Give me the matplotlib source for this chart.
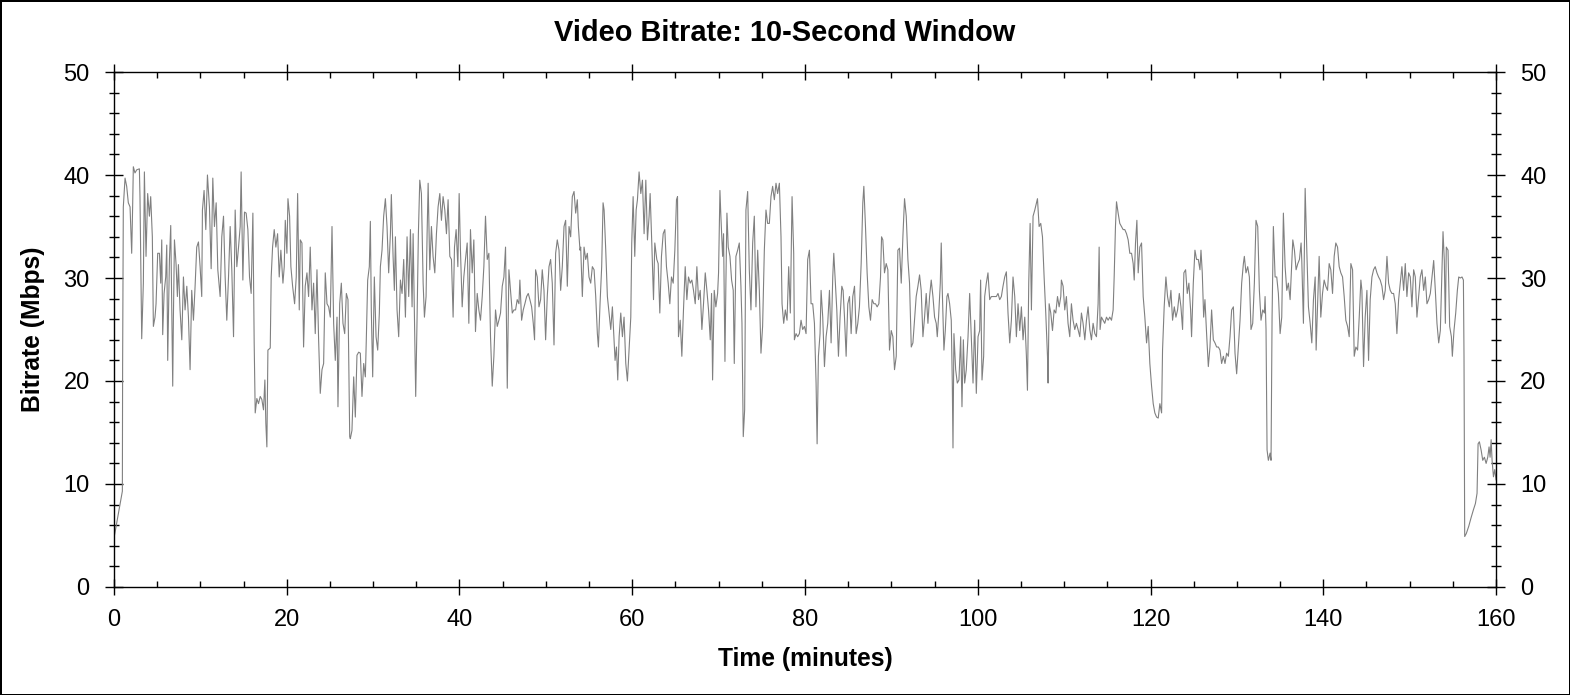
import matplotlib
matplotlib.use("Agg")
import matplotlib.pyplot as plt
from matplotlib.ticker import MultipleLocator
import numpy as np

# (minute, Mbps) readings, split in stretches of roughly half an hour
part_a = [
    (0.0, 4.8), (0.1, 5.2), (0.97, 9.3), (1.0, 21.5), (1.08, 36.9), (1.28, 39.7),
    (1.47, 38.9), (1.66, 37.3), (1.86, 36.9), (2.05, 32.4), (2.16, 36.9), (2.24, 40.8),
    (2.43, 40.2), (2.63, 40.5), (2.94, 40.6), (3.01, 37.9), (3.21, 24.1), (3.40, 29.5),
    (3.52, 40.3), (3.71, 32.1), (3.90, 38.2), (4.10, 36.0), (4.25, 37.9), (4.44, 34.0),
    (4.56, 25.3), (4.75, 26.2), (4.87, 27.5), (5.06, 32.4), (5.26, 32.4), (5.41, 29.5),
    (5.53, 33.7), (5.64, 24.5), (5.80, 28.5), (5.99, 30.1), (6.11, 33.2), (6.22, 22.0),
    (6.42, 31.8), (6.57, 35.1), (6.80, 19.5), (6.88, 26.2), (7.00, 33.7), (7.19, 31.3),
    (7.34, 28.2), (7.46, 31.3), (7.65, 26.9), (7.85, 24.0), (8.04, 30.1), (8.23, 26.9),
    (8.43, 29.2), (8.62, 26.2), (8.81, 21.1), (9.00, 28.8), (9.20, 25.9), (9.39, 29.2),
    (9.58, 33.0), (9.78, 33.5), (9.97, 31.1), (10.16, 28.2), (10.24, 36.6), (10.43, 38.5),
    (10.63, 34.7), (10.82, 40.0), (11.05, 36.9), (11.25, 30.9), (11.44, 39.7), (11.63, 35.0),
    (11.83, 37.3), (12.02, 30.8), (12.29, 28.2), (12.48, 34.0), (12.68, 36.0), (12.87, 30.1),
    (13.06, 25.9), (13.26, 30.1), (13.45, 35.0), (13.64, 30.8), (13.84, 24.3), (14.03, 36.6),
    (14.22, 31.1), (14.42, 33.0), (14.61, 35.0), (14.72, 40.3), (14.92, 29.8), (15.11, 36.4),
    (15.30, 36.3), (15.50, 34.7), (15.69, 30.1), (15.88, 28.5), (16.08, 36.3), (16.23, 23.7),
    (16.35, 16.9), (16.54, 18.3), (16.73, 17.8), (16.93, 18.5), (17.12, 18.2), (17.31, 17.2),
    (17.47, 20.1), (17.58, 15.9), (17.70, 13.6), (17.82, 23.0), (18.09, 23.2), (18.20, 30.1),
    (18.36, 33.0), (18.55, 34.7), (18.74, 33.0), (18.94, 34.3), (19.13, 30.1), (19.32, 32.7),
    (19.56, 29.5), (19.71, 31.1), (19.83, 35.6), (20.02, 32.4), (20.14, 37.7), (20.33, 36.0),
    (20.48, 31.1), (20.68, 29.2), (20.91, 27.5), (21.10, 30.1), (21.26, 38.2), (21.45, 26.9),
    (21.57, 33.7), (21.76, 33.4), (21.95, 23.3), (22.14, 29.2), (22.34, 30.5), (22.53, 28.2),
    (22.72, 33.0), (22.92, 26.9), (23.11, 29.5), (23.30, 24.6), (23.50, 30.8), (23.69, 24.0),
    (23.88, 18.8), (24.08, 21.1), (24.27, 21.7), (24.46, 30.5), (24.66, 27.5), (24.85, 27.2),
    (25.04, 26.2), (25.24, 35.0), (25.43, 25.6), (25.62, 22.0), (25.82, 26.2), (25.93, 17.5),
    (26.13, 27.5), (26.32, 29.5), (26.51, 25.6), (26.71, 24.6), (26.90, 28.5), (27.09, 27.9),
    (27.29, 14.6),
]

part_b = [
    (27.36, 14.4), (27.55, 15.2), (27.75, 20.4), (27.94, 16.5), (28.13, 22.5), (28.33, 22.8),
    (28.52, 22.7), (28.71, 18.5), (28.91, 21.7), (29.10, 20.4), (29.21, 24.0), (29.37, 29.8),
    (29.56, 31.1), (29.68, 35.5), (29.79, 26.9), (29.95, 20.4), (30.14, 30.1), (30.34, 24.3),
    (30.53, 23.0), (30.72, 26.6), (30.84, 31.1), (31.03, 32.7), (31.22, 36.0), (31.42, 37.7),
    (31.61, 35.0), (31.80, 30.5), (32.00, 34.3), (32.11, 38.1), (32.31, 32.1), (32.46, 28.8),
    (32.58, 34.0), (32.77, 26.9), (32.96, 24.3), (33.16, 29.8), (33.35, 28.5), (33.54, 31.8),
    (33.74, 26.2), (33.93, 34.0), (34.12, 28.2), (34.32, 34.7), (34.51, 27.2), (34.63, 34.3),
    (34.78, 26.2), (34.93, 18.5), (35.09, 26.2), (35.24, 34.3), (35.40, 39.5), (35.59, 38.2),
    (35.79, 29.5), (35.94, 26.2), (36.13, 28.2), (36.25, 34.3), (36.37, 39.2), (36.56, 30.8),
    (36.75, 35.0), (36.94, 32.1), (37.14, 30.5), (37.33, 34.3), (37.52, 36.9), (37.72, 38.2),
    (37.91, 35.6), (38.10, 37.9), (38.30, 36.6), (38.49, 34.3), (38.68, 37.6), (38.88, 32.1),
    (39.07, 31.8), (39.26, 26.2), (39.42, 33.0), (39.61, 34.7), (39.81, 31.1), (39.96, 38.2),
    (40.11, 32.7), (40.31, 27.2), (40.50, 30.1), (40.69, 31.8), (40.89, 33.4), (41.08, 25.6),
    (41.27, 34.7), (41.47, 30.5), (41.66, 33.7), (41.85, 24.8), (42.05, 28.5), (42.24, 26.9),
    (42.43, 25.9), (42.63, 28.2), (42.82, 31.1), (43.01, 36.0), (43.21, 31.8), (43.40, 32.4),
    (43.59, 24.3), (43.79, 19.5), (43.98, 22.4), (44.17, 26.9), (44.37, 25.3), (44.56, 25.9),
    (44.75, 26.6), (44.95, 29.2), (45.14, 30.1), (45.33, 33.0), (45.53, 19.3), (45.72, 30.8),
    (45.91, 28.8), (46.11, 26.6), (46.30, 26.9), (46.49, 26.9), (46.68, 27.9), (46.88, 27.5),
    (46.99, 29.8), (47.19, 25.9), (47.38, 26.9), (47.57, 27.5), (47.77, 28.2), (47.96, 28.5),
    (48.15, 27.9), (48.35, 27.2), (48.54, 25.6), (48.69, 24.0), (48.81, 30.8), (49.00, 30.1),
    (49.20, 27.2), (49.39, 27.9), (49.58, 30.8), (49.78, 28.8), (49.97, 24.0), (50.16, 28.2),
    (50.36, 31.1), (50.55, 31.8), (50.74, 29.5), (50.94, 23.5), (51.13, 32.4), (51.32, 33.7),
    (51.52, 32.7), (51.71, 28.8), (51.90, 31.1), (52.10, 35.0), (52.29, 35.6), (52.48, 29.2),
    (52.68, 35.0), (52.87, 34.0), (53.06, 37.9), (53.26, 38.4), (53.45, 36.3), (53.64, 37.6),
    (53.76, 35.0), (53.95, 32.7),
]

part_c = [
    (54.03, 33.0), (54.22, 28.2), (54.42, 33.0), (54.61, 31.8), (54.80, 32.4), (54.99, 30.1),
    (55.19, 29.5), (55.38, 31.1), (55.58, 30.8), (55.77, 28.2), (55.96, 24.6), (56.08, 23.3),
    (56.27, 27.5), (56.46, 31.1), (56.62, 37.3), (56.74, 36.6), (56.93, 32.7), (57.12, 28.2),
    (57.32, 26.6), (57.51, 25.0), (57.70, 27.2), (57.90, 23.7), (58.01, 22.0), (58.17, 23.3),
    (58.32, 20.1), (58.48, 24.3), (58.67, 26.6), (58.86, 24.3), (59.05, 26.2), (59.25, 21.7),
    (59.44, 20.0), (59.63, 23.0), (59.83, 26.2), (59.94, 33.4), (60.10, 37.9), (60.29, 32.1),
    (60.45, 36.6), (60.60, 37.6), (60.79, 40.3), (60.99, 38.2), (61.18, 39.5), (61.37, 34.3),
    (61.57, 39.5), (61.76, 33.7), (61.95, 36.0), (62.07, 38.2), (62.26, 33.4), (62.46, 27.9),
    (62.61, 33.4), (62.84, 31.8), (63.00, 31.4), (63.19, 26.6), (63.38, 32.1), (63.58, 34.3),
    (63.77, 34.7), (63.96, 31.1), (64.16, 29.5), (64.35, 27.5), (64.54, 30.1), (64.74, 29.5),
    (64.93, 32.7), (65.12, 37.6), (65.24, 37.9), (65.35, 24.3), (65.55, 25.9), (65.74, 22.4),
    (65.93, 26.9), (66.13, 31.1), (66.32, 27.9), (66.51, 30.1), (66.71, 29.5), (66.90, 29.8),
    (67.09, 28.8), (67.29, 27.5), (67.48, 31.1), (67.67, 27.9), (67.87, 28.8), (68.06, 25.0),
    (68.25, 27.5), (68.45, 30.5), (68.64, 28.8), (68.83, 26.9), (69.03, 24.0), (69.18, 28.5),
    (69.30, 20.1), (69.49, 28.8), (69.68, 27.2), (69.88, 28.5), (69.99, 30.5), (70.15, 38.5),
    (70.26, 36.0), (70.46, 32.1), (70.57, 34.3), (70.73, 21.9), (70.84, 29.5), (70.96, 36.3),
    (71.11, 33.0), (71.31, 32.1), (71.50, 29.8), (71.69, 28.8), (71.81, 21.7), (72.00, 32.1),
    (72.20, 32.7), (72.39, 33.4), (72.58, 29.2), (72.70, 25.6), (72.85, 14.6), (73.01, 17.2),
    (73.16, 36.6), (73.36, 38.4), (73.55, 30.8), (73.74, 26.9), (73.94, 33.4), (74.13, 36.0),
    (74.32, 27.2), (74.52, 32.7), (74.71, 28.8), (74.90, 22.7), (75.09, 25.3), (75.29, 32.7),
    (75.48, 36.6), (75.67, 35.3), (75.87, 35.3), (76.06, 37.9), (76.25, 38.9), (76.45, 37.6),
    (76.64, 39.2), (76.83, 38.2), (77.03, 39.2), (77.22, 34.0), (77.34, 27.5), (77.53, 25.6),
    (77.72, 26.9), (77.92, 25.9), (78.11, 31.1), (78.30, 26.6), (78.50, 37.9), (78.69, 32.4),
    (78.77, 24.0), (78.96, 24.6), (79.15, 24.3), (79.35, 24.6), (79.54, 25.9), (79.73, 25.0),
    (79.93, 25.3), (80.12, 24.6), (80.31, 31.8), (80.51, 32.7), (80.70, 27.5), (80.89, 27.5),
    (81.09, 25.6), (81.28, 19.8), (81.40, 13.9), (81.55, 22.4), (81.74, 24.6),
]

part_d = [
    (81.86, 28.8), (82.05, 26.2), (82.25, 21.4), (82.44, 24.3), (82.63, 25.6), (82.83, 28.8),
    (83.02, 23.7), (83.21, 30.1), (83.33, 32.4), (83.48, 30.1), (83.68, 26.9), (83.87, 22.4),
    (84.06, 26.2), (84.26, 29.2), (84.41, 28.8), (84.57, 26.2), (84.76, 22.4), (84.95, 27.5),
    (85.15, 28.2), (85.34, 24.6), (85.53, 28.2), (85.73, 29.2), (85.92, 24.6), (86.11, 25.6),
    (86.30, 27.2), (86.50, 31.4), (86.69, 37.3), (86.81, 38.9), (87.00, 35.0), (87.19, 30.5),
    (87.39, 27.2), (87.58, 25.9), (87.77, 27.9), (87.97, 27.5), (88.16, 27.5), (88.35, 27.2),
    (88.55, 27.5), (88.74, 30.1), (88.86, 34.0), (89.01, 33.7), (89.20, 30.5), (89.40, 31.4),
    (89.59, 30.8), (89.78, 23.0), (89.98, 24.9), (90.17, 24.3), (90.36, 21.1), (90.56, 22.4),
    (90.75, 32.7), (90.94, 32.9), (91.14, 29.5), (91.33, 34.0), (91.52, 37.7), (91.72, 36.0),
    (91.91, 31.8), (92.10, 29.5), (92.30, 23.3), (92.49, 23.7), (92.68, 25.9), (92.87, 28.2),
    (93.07, 29.2), (93.26, 30.3), (93.45, 28.8), (93.65, 24.3), (93.84, 26.2), (94.03, 28.5),
    (94.23, 25.6), (94.42, 28.2), (94.61, 29.8), (94.81, 28.2), (95.00, 26.2), (95.19, 25.6),
    (95.31, 24.3), (95.46, 26.2), (95.66, 29.5), (95.77, 33.4), (95.89, 28.8), (96.08, 23.0),
    (96.24, 24.9), (96.43, 28.2), (96.55, 28.5), (96.74, 27.5), (96.93, 25.9), (97.05, 19.8),
    (97.13, 13.5), (97.24, 24.6), (97.44, 21.1), (97.63, 19.8), (97.82, 20.1), (98.02, 24.3),
    (98.17, 17.5), (98.33, 24.0), (98.48, 19.8), (98.67, 21.1), (98.87, 24.3), (99.06, 28.5),
    (99.25, 24.3), (99.45, 19.8), (99.64, 25.9), (99.83, 18.8), (100.03, 24.3), (100.22, 24.9),
    (100.33, 29.8), (100.49, 20.1), (100.68, 22.4), (100.80, 28.2), (100.99, 29.5), (101.18, 30.5),
    (101.38, 27.9), (101.57, 28.2), (101.76, 28.2), (101.96, 28.2), (102.15, 28.2), (102.34, 28.5),
    (102.54, 27.9), (102.73, 28.2), (102.92, 29.2), (103.12, 30.1), (103.31, 30.6), (103.50, 26.6),
    (103.70, 23.7), (103.89, 25.9), (104.08, 30.1), (104.28, 28.2), (104.47, 24.3), (104.66, 27.5),
    (104.86, 24.9), (105.05, 27.2), (105.24, 24.0), (105.44, 26.2), (105.63, 22.4), (105.75, 19.1),
    (105.90, 29.5), (106.06, 35.3), (106.21, 26.9), (106.40, 36.0), (106.60, 36.6), (106.79, 37.3),
    (106.91, 37.7), (107.10, 35.0), (107.29, 35.3), (107.49, 34.0), (107.68, 30.1), (107.87, 26.6),
    (108.07, 22.4), (108.14, 19.8), (108.26, 27.5), (108.45, 26.6), (108.65, 24.9), (108.84, 26.9),
    (109.03, 26.6), (109.23, 28.2), (109.42, 27.2), (109.61, 28.2),
]

part_e = [
    (109.68, 29.8), (109.88, 29.2), (110.07, 26.9), (110.26, 28.2), (110.45, 25.6), (110.65, 24.3),
    (110.84, 27.5), (111.03, 25.9), (111.23, 25.0), (111.42, 25.6), (111.61, 25.0), (111.81, 24.3),
    (112.00, 26.6), (112.19, 25.6), (112.39, 24.0), (112.58, 25.9), (112.77, 27.2), (112.97, 25.0),
    (113.16, 24.0), (113.35, 25.6), (113.55, 24.6), (113.74, 24.3), (113.93, 27.5), (114.05, 33.0),
    (114.16, 25.0), (114.32, 26.2), (114.51, 25.9), (114.70, 25.6), (114.90, 26.2), (115.09, 25.9),
    (115.28, 26.2), (115.48, 25.9), (115.67, 26.9), (115.79, 30.1), (115.94, 35.0), (116.06, 37.4),
    (116.25, 36.3), (116.44, 35.3), (116.64, 35.0), (116.83, 34.7), (117.02, 34.7), (117.22, 34.3),
    (117.41, 33.7), (117.60, 32.4), (117.80, 32.4), (117.99, 31.4), (118.11, 29.8), (118.26, 33.4),
    (118.42, 35.6), (118.57, 30.5), (118.76, 33.0), (118.96, 33.4), (119.15, 28.2), (119.34, 26.2),
    (119.54, 23.7), (119.73, 25.3), (119.92, 21.7), (120.12, 19.5), (120.31, 17.8), (120.50, 16.9),
    (120.70, 16.5), (120.89, 16.4), (121.08, 17.8), (121.28, 16.9), (121.39, 23.0), (121.58, 27.2),
    (121.78, 30.1), (121.97, 28.2), (122.17, 27.2), (122.36, 28.8), (122.55, 25.9), (122.75, 27.2),
    (122.94, 26.2), (123.13, 26.9), (123.33, 28.5), (123.52, 27.2), (123.71, 25.0), (123.86, 30.5),
    (124.06, 30.8), (124.25, 28.5), (124.44, 29.5), (124.64, 26.9), (124.75, 24.3), (124.95, 29.5),
    (125.14, 32.7), (125.33, 31.8), (125.53, 31.8), (125.72, 30.8), (125.84, 32.7), (125.99, 30.5),
    (126.15, 26.2), (126.30, 27.9), (126.49, 24.6), (126.69, 21.4), (126.88, 23.3), (127.07, 26.9),
    (127.27, 24.0), (127.46, 23.7), (127.65, 23.3), (127.85, 23.3), (128.04, 23.0), (128.23, 21.7),
    (128.43, 22.4), (128.62, 21.7), (128.81, 22.7), (129.01, 22.4), (129.20, 24.3), (129.39, 26.9),
    (129.59, 27.2), (129.78, 22.7), (129.97, 20.7), (130.17, 23.3), (130.36, 25.9), (130.55, 29.5),
    (130.75, 31.4), (130.86, 32.1), (131.05, 30.5), (131.25, 31.1), (131.44, 30.1), (131.63, 25.0),
    (131.83, 25.6), (132.02, 29.5), (132.21, 35.6), (132.41, 35.0), (132.60, 28.8), (132.79, 25.9),
    (132.99, 26.9), (133.18, 26.6), (133.26, 28.2), (133.37, 25.0), (133.49, 13.3), (133.64, 12.3),
    (133.84, 13.0), (133.95, 12.3), (134.07, 26.2), (134.22, 35.0), (134.42, 30.1), (134.61, 30.1),
    (134.80, 28.5), (135.00, 24.6), (135.19, 26.2), (135.38, 36.3), (135.58, 31.1), (135.77, 28.8),
    (135.96, 29.5), (136.16, 27.9), (136.35, 31.4), (136.47, 33.7), (136.66, 32.7), (136.85, 30.8),
    (137.05, 31.4), (137.24, 31.8), (137.43, 33.4),
]

part_f = [
    (137.51, 31.7), (137.70, 25.6), (137.90, 38.7), (138.09, 32.7), (138.28, 27.2), (138.48, 25.6),
    (138.67, 23.7), (138.86, 27.9), (139.06, 30.1), (139.17, 23.0), (139.37, 28.2), (139.52, 32.1),
    (139.71, 26.2), (139.91, 28.5), (140.10, 29.8), (140.29, 29.2), (140.49, 28.8), (140.68, 31.4),
    (140.87, 30.8), (141.07, 28.5), (141.26, 32.1), (141.45, 33.4), (141.65, 33.0), (141.84, 31.1),
    (142.03, 30.5), (142.23, 30.1), (142.42, 28.2), (142.61, 25.9), (142.81, 25.3), (143.00, 24.3),
    (143.19, 31.4), (143.39, 30.8), (143.58, 22.4), (143.77, 23.3), (143.97, 23.0), (144.16, 26.2),
    (144.35, 29.8), (144.47, 28.8), (144.66, 21.4), (144.85, 26.2), (145.05, 28.8), (145.24, 22.0),
    (145.43, 27.9), (145.63, 30.1), (145.82, 30.8), (146.01, 31.1), (146.21, 30.5), (146.40, 30.1),
    (146.59, 29.8), (146.79, 29.2), (146.98, 27.9), (147.17, 28.8), (147.37, 32.1), (147.56, 29.5),
    (147.75, 28.8), (147.94, 28.5), (148.14, 28.5), (148.33, 27.5), (148.52, 24.6), (148.72, 27.9),
    (148.91, 29.5), (149.10, 31.1), (149.30, 28.8), (149.49, 31.4), (149.68, 28.2), (149.88, 30.5),
    (150.07, 30.1), (150.26, 27.2), (150.46, 30.8), (150.65, 30.1), (150.84, 26.2), (151.04, 28.2),
    (151.23, 30.1), (151.42, 30.8), (151.62, 28.8), (151.81, 30.1), (152.00, 27.5), (152.20, 27.9),
    (152.39, 28.5), (152.58, 30.1), (152.78, 31.7), (152.97, 28.8), (153.16, 25.6), (153.36, 23.7),
    (153.55, 24.9), (153.74, 30.8), (153.86, 34.5), (154.01, 31.7), (154.13, 25.6), (154.24, 33.0),
    (154.44, 32.7), (154.63, 25.3), (154.83, 24.3), (154.94, 22.4), (155.13, 24.9), (155.33, 26.6),
    (155.52, 28.8), (155.68, 30.1), (155.87, 30.0), (156.06, 30.1), (156.22, 29.8), (156.29, 22.4),
    (156.37, 4.9), (156.56, 5.2), (156.84, 5.9), (157.10, 6.7), (157.38, 7.5), (157.61, 8.1),
    (157.80, 9.1), (157.92, 13.9), (158.07, 14.1), (158.27, 13.3), (158.46, 12.3), (158.65, 12.6),
    (158.85, 12.0), (159.04, 12.6), (159.19, 13.6), (159.31, 12.6), (159.43, 14.3), (159.54, 12.3),
    (159.70, 10.7), (159.85, 11.4), (160.0, 10.4),
]

x_ticks = [0, 20, 40, 60, 80, 100, 120, 140, 160]
y_ticks = [0, 10, 20, 30, 40, 50]

readings = np.array(part_a + part_b + part_c + part_d + part_e + part_f)
minutes = readings[:, 0]
mbps = readings[:, 1]

plt.rcParams["font.family"] = ["Liberation Sans", "DejaVu Sans"]

fig = plt.figure(figsize=(15.7, 6.95), dpi=100)
fig.patch.set_edgecolor("black")
fig.patch.set_linewidth(2.0)
ax = fig.add_axes([0.0726, 0.1554, 0.8803, 0.7410])

ax.plot(minutes, mbps, color="#808080", linewidth=0.8)

ax.set_xlim(0, 160)
ax.set_ylim(0, 50)
ax.set_xticks(x_ticks)
ax.set_yticks(y_ticks)
ax.xaxis.set_minor_locator(MultipleLocator(5))
ax.yaxis.set_minor_locator(MultipleLocator(2))

for s in ax.spines.values():
    s.set_linewidth(1.0)

ax.tick_params(axis="x", which="major", direction="inout", length=12, width=1.0,
               top=True, labelsize=17, pad=9.5)
ax.tick_params(axis="x", which="minor", direction="in", length=4, width=1.0, top=True)
ax.tick_params(axis="y", which="major", direction="inout", length=13, width=1.0,
               right=True, labelright=True, labelsize=17, pad=11)
ax.tick_params(axis="y", which="minor", direction="inout", length=6.5, width=1.0, right=True)

ax.set_xlabel("Time (minutes)", fontsize=17.7, fontweight="bold", va="center")
ax.set_ylabel("Bitrate (Mbps)", fontsize=17.7, fontweight="bold", va="center")
ax.xaxis.set_label_coords(0.5, -0.14)
ax.yaxis.set_label_coords(-0.0586, 0.5)

fig.text(0.5, 0.9525, "Video Bitrate: 10-Second Window", fontsize=20.9,
         fontweight="bold", ha="center", va="center")

fig.savefig("out.png", dpi=100)
